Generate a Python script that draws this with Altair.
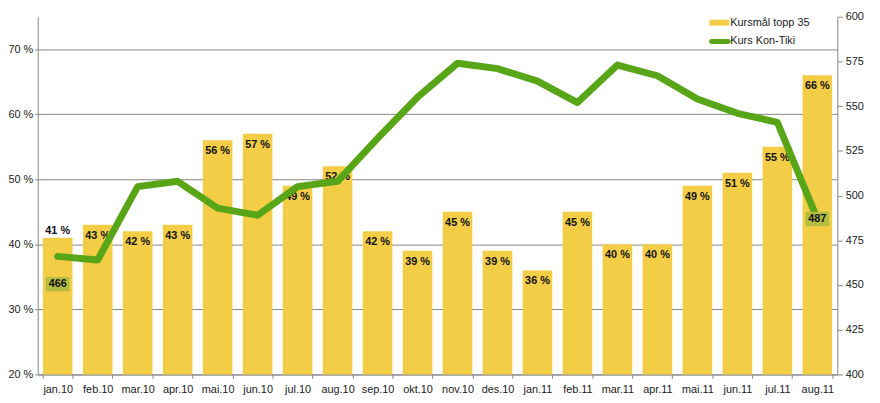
import altair as alt
import pandas as pd

months = ["jan.10", "feb.10", "mar.10", "apr.10", "mai.10", "jun.10", "jul.10", "aug.10",
          "sep.10", "okt.10", "nov.10", "des.10", "jan.11", "feb.11", "mar.11", "apr.11",
          "mai.11", "jun.11", "jul.11", "aug.11"]
pct = [41, 43, 42, 43, 56, 57, 49, 52, 42, 39, 45, 39, 36, 45, 40, 40, 49, 51, 55, 66]
kurs = [466, 464, 505, 508, 493, 489, 505, 508, 532, 555, 574, 571, 564, 552, 573, 567,
        554, 546, 541, 487]
left_ticks = [20, 30, 40, 50, 60, 70]
right_ticks = [400, 425, 450, 475, 500, 525, 550, 575, 600]

YELLOW = "#F2CD45"
GREEN = "#58A618"
BOX = "#B3BD40"
GRID = "#878787"
FONT = "Liberation Sans"

df = pd.DataFrame({"maned": months, "pct": pct, "kurs": kurs})
df["pct_label"] = [f"{p} %" for p in pct]
df["kurs_label"] = [str(k) for k in kurs]

base = alt.Chart(df)
xenc = alt.X("maned:N", sort=months, title=None,
             scale=alt.Scale(paddingInner=0.26, paddingOuter=0.13),
             axis=alt.Axis(labelAngle=0, tickBand="extent", tickSize=4, tickColor=GRID,
                           domainColor=GRID, labelPadding=5, labelFontSize=11,
                           labelColor="#1a1a1a", labelFont=FONT))

yleft = alt.Y("pct:Q", title=None, scale=alt.Scale(domain=[20, 75], nice=False),
              axis=alt.Axis(values=left_ticks, labelExpr="datum.value + ' %'", grid=True,
                            gridColor=GRID, tickSize=3, tickColor=GRID, domainColor=GRID,
                            labelFontSize=11, labelColor="#1a1a1a", labelFont=FONT,
                            labelPadding=2))

bars = base.mark_bar(color=YELLOW).encode(x=xenc, y=yleft, y2=alt.Y2(datum=20))
bar_text_first = base.transform_filter("datum.maned == 'jan.10'").mark_text(
    font=FONT, fontSize=11, fontWeight="bold", color="#111", baseline="middle", dy=-7
).encode(x=xenc, y=yleft, text="pct_label:N")
bar_text_rest = base.transform_filter("datum.maned != 'jan.10'").mark_text(
    font=FONT, fontSize=11, fontWeight="bold", color="#111", baseline="middle", dy=11
).encode(x=xenc, y=yleft, text="pct_label:N")

bar_layer = alt.layer(bars, bar_text_first, bar_text_rest)

yright = alt.Y("kurs:Q", title=None, scale=alt.Scale(domain=[400, 600], nice=False),
               axis=alt.Axis(orient="right", values=right_ticks, grid=False, tickSize=5,
                             tickColor=GRID, domainColor=GRID, labelFontSize=11,
                             labelColor="#1a1a1a", labelFont=FONT, labelPadding=3))

line = base.mark_line(color=GREEN, strokeWidth=7, strokeCap="round", strokeJoin="round").encode(
    x=xenc, y=yright)

box_path = "M-1,-0.6L1,-0.6L1,0.6L-1,0.6Z"
box_first = base.transform_filter("datum.maned == 'jan.10'").mark_point(
    shape=box_path, size=576, filled=True, color=BOX, opacity=1, yOffset=28
).encode(x=xenc, y=yright)
box_last = base.transform_filter("datum.maned == 'aug.11'").mark_point(
    shape=box_path, size=576, filled=True, color=BOX, opacity=1, yOffset=0
).encode(x=xenc, y=yright)
lt_first = base.transform_filter("datum.maned == 'jan.10'").mark_text(
    font=FONT, fontSize=11, fontWeight="bold", color="#111", baseline="middle", dy=28
).encode(x=xenc, y=yright, text="kurs_label:N")
lt_last = base.transform_filter("datum.maned == 'aug.11'").mark_text(
    font=FONT, fontSize=11, fontWeight="bold", color="#111", baseline="middle", dy=0
).encode(x=xenc, y=yright, text="kurs_label:N")

line_layer = alt.layer(line, box_first, box_last, lt_first, lt_last)

leg = alt.Chart(pd.DataFrame({"a": [0]}))
leg_rect = leg.mark_rect(color=YELLOW).encode(
    x=alt.value(678), x2=alt.value(698), y=alt.value(3), y2=alt.value(9))
leg_line = leg.mark_rule(color=GREEN, strokeWidth=5, strokeCap="round").encode(
    x=alt.value(680), x2=alt.value(697), y=alt.value(25))
leg_t1 = leg.mark_text(font=FONT, fontSize=11, color="#1a1a1a", align="left",
                       baseline="middle", text="Kursmål topp 35").encode(
    x=alt.value(699), y=alt.value(6))
leg_t2 = leg.mark_text(font=FONT, fontSize=11, color="#1a1a1a", align="left",
                       baseline="middle", text="Kurs Kon-Tiki").encode(
    x=alt.value(699), y=alt.value(25))

chart = alt.layer(
    bar_layer, line_layer, leg_rect, leg_line, leg_t1, leg_t2
).resolve_scale(y="independent").properties(
    width=807, height=361,
    autosize=alt.AutoSizeParams(type="none"),
    padding={"left": 30, "top": 7, "right": 35, "bottom": 27},
).configure_view(stroke=None)

chart.save("out.html", embed_options={"renderer": "svg", "actions": False})
